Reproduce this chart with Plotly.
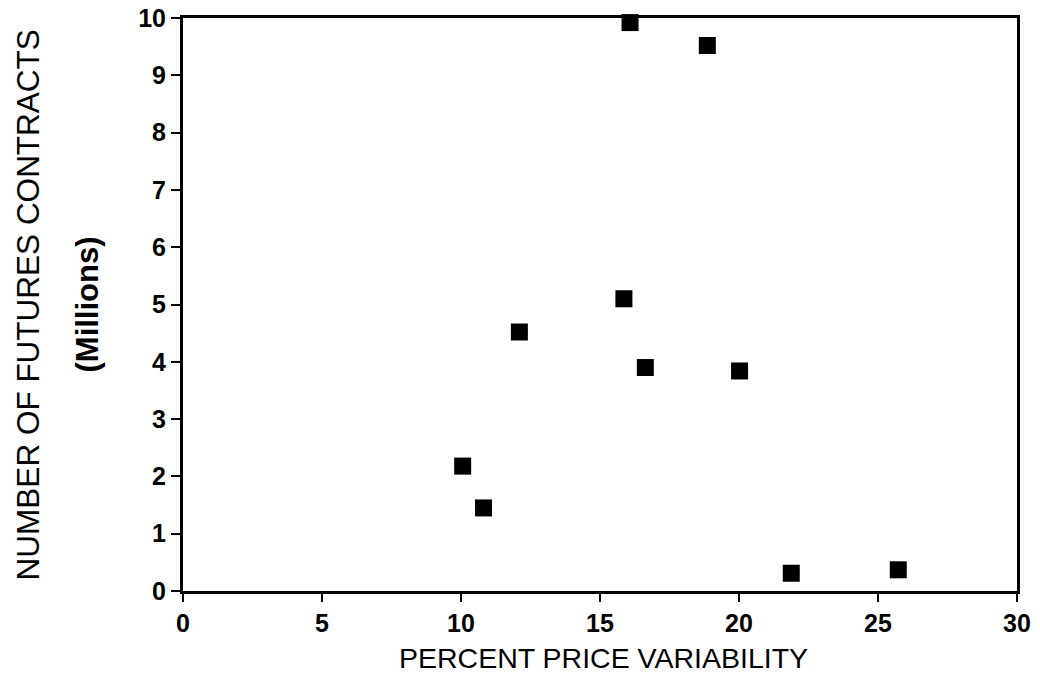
import plotly.graph_objects as go

variability = [10.06, 10.81, 12.1, 15.86, 16.08, 16.63, 18.86, 20.02, 21.88, 25.73]
contracts = [2.18, 1.45, 4.52, 5.10, 9.92, 3.90, 9.52, 3.84, 0.31, 0.37]
x_ticks = [0, 5, 10, 15, 20, 25, 30]
y_ticks = [0, 1, 2, 3, 4, 5, 6, 7, 8, 9, 10]

fig = go.Figure()
fig.add_trace(go.Scatter(
    x=variability, y=contracts, mode="markers",
    marker=dict(symbol="square", size=17, color="black", line=dict(width=0)),
    cliponaxis=False, showlegend=False,
))

tick_font = dict(family="Liberation Sans, Arial", size=25, color="black", weight="bold")
x_title_font = dict(family="Liberation Sans, Arial", size=28.5, color="black")
y_title_font = dict(family="Liberation Sans, Arial", size=31.5, color="black")
sub_title_font = dict(family="Liberation Sans, Arial", size=31, color="black", weight="bold")

fig.update_xaxes(
    range=[0, 30], tickvals=x_ticks, ticks="outside", ticklen=8, tickwidth=2,
    tickcolor="black", showline=True, linewidth=3, linecolor="black", mirror=True,
    showgrid=False, zeroline=False, tickfont=tick_font, automargin=False,
    ticklabelstandoff=0, ticklabeloverflow="allow",
)
fig.update_yaxes(
    range=[0, 10], tickvals=y_ticks, ticks="outside", ticklen=9, tickwidth=2,
    tickcolor="black", showline=True, linewidth=3, linecolor="black", mirror=True,
    showgrid=False, zeroline=False, tickfont=tick_font, automargin=False,
    ticklabeloverflow="allow",
)

fig.add_annotation(
    text="PERCENT PRICE VARIABILITY", xref="paper", yref="paper",
    x=0.504, y=-0.117, xanchor="center", yanchor="middle",
    showarrow=False, font=x_title_font,
)
fig.add_annotation(
    text="NUMBER OF FUTURES CONTRACTS", xref="paper", yref="paper",
    x=-0.186, y=0.5, xanchor="center", yanchor="middle", textangle=-90,
    showarrow=False, font=y_title_font,
)
fig.add_annotation(
    text="(Millions)", xref="paper", yref="paper",
    x=-0.1151, y=0.5, xanchor="center", yanchor="middle", textangle=-90,
    showarrow=False, font=sub_title_font,
)

fig.update_layout(
    width=1032, height=666,
    margin=dict(l=175, r=23, t=10, b=83, autoexpand=False),
    plot_bgcolor="white", paper_bgcolor="white",
)

fig.write_html("out.html")
